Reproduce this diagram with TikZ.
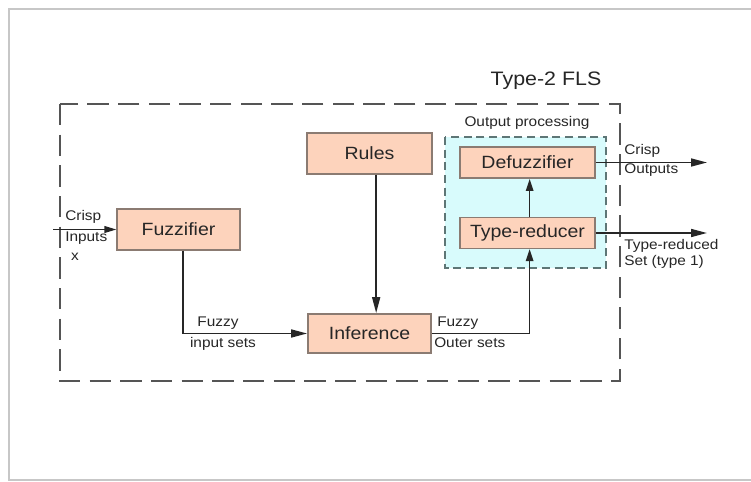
\documentclass[tikz,border=0pt]{standalone}
\usepackage{fontspec}
\setmainfont[FakeStretch=1.1]{Liberation Sans}
\usetikzlibrary{arrows.meta,calc}
\definecolor{boxfill}{HTML}{FDD3BC}
\definecolor{boxdraw}{HTML}{8B7B72}
\definecolor{cyanfill}{HTML}{D8FBFC}
\definecolor{cyandash}{HTML}{5E7676}
\definecolor{outdash}{HTML}{555555}
\definecolor{txt}{HTML}{262626}
\tikzset{
  blockbox/.style={draw=boxdraw, fill=boxfill, line width=1.1pt, inner sep=0pt,
    text=txt, font=\fontsize{13.3}{15}\selectfont},
  lbl/.style={inner sep=0pt, text=txt, font=\fontsize{10.5}{12}\selectfont},
  conn/.style={draw=black!85, line width=1.25pt},
  bigtip/.style={-{Triangle[length=12pt,width=6pt]}},
  smalltip/.style={-{Triangle[length=9pt,width=5.5pt]}},
}
\begin{document}
\begin{tikzpicture}[x=0.75pt,y=-0.75pt]
\useasboundingbox (0,0) rectangle (751,482);
% page frame
\draw[black!22, line width=1.2pt] (751,9) -- (9,9) -- (9,480) -- (751,480);
% outer dashed frame
\draw[outdash, line width=1.1pt, dash pattern=on 16pt off 7pt] (60,104) rectangle (620,381);
\node[inner sep=0pt, text=txt, font=\fontsize{14.6}{17}\selectfont] (title) at (546,81) {Type-2 FLS};
% output processing box
\draw[cyandash, fill=cyanfill, line width=1pt, dash pattern=on 6pt off 3.5pt] (445,137) rectangle (606,268);
\node[lbl] (optitle) at (527,123) {Output processing};
% blocks
\node[blockbox, minimum width=92pt, minimum height=30.5pt] (fuz) at (178.5,229.5) {Fuzzifier};
\node[blockbox, minimum width=93.5pt, minimum height=30.5pt] (rules) at (369.5,153.5) {Rules};
\node[blockbox, minimum width=92.5pt, minimum height=29.5pt] (inf) at (369.5,333.5) {Inference};
\node[blockbox, minimum width=101pt, minimum height=23.5pt] (defuz) at (527.5,162.5) {Defuzzifier};
\node[blockbox, minimum width=101pt, minimum height=23pt] (tr) at (527.5,233) {Type-reducer};
% free ends
\coordinate (inx) at (53,229.5);
\coordinate (outc) at (707,162.5);
\coordinate (outt) at (707,233);
% connectors
\draw[conn, -{Triangle[length=9pt,width=5pt]}] (inx) -- (fuz.west);
\draw[conn, bigtip] ([xshift=3.4pt]fuz.south) |- (inf.west);
\draw[conn, bigtip] ([xshift=5pt]rules.south) -- ([xshift=5pt]inf.north);
\draw[conn, smalltip] (inf.east) -| ([xshift=1.6pt]tr.south);
\draw[conn, smalltip] ([xshift=1.6pt]tr.north) -- ([xshift=1.6pt]defuz.south);
\draw[conn, bigtip] (defuz.east) -- (outc);
\draw[conn, bigtip] (tr.east) -- (outt);
% labels
\node[lbl, anchor=west] (l1) at (65,217) {Crisp};
\node[lbl, anchor=west] (l2) at (65,238) {Inputs};
\node[lbl] (l3) at (75,257) {x};
\node[lbl] (l4) at (218,323) {Fuzzy};
\node[lbl] (l5) at (223,344) {input sets};
\node[lbl, anchor=west] (l6) at (437,323) {Fuzzy};
\node[lbl, anchor=west] (l7) at (434,343) {Outer sets};
\node[lbl, anchor=west] (l8) at (624,151) {Crisp};
\node[lbl, anchor=west] (l9) at (624,170) {Outputs};
\node[lbl, anchor=west] (l10) at (624,246) {Type-reduced};
\node[lbl, anchor=west] (l11) at (624,262) {Set (type 1)};
\end{tikzpicture}
\end{document}
